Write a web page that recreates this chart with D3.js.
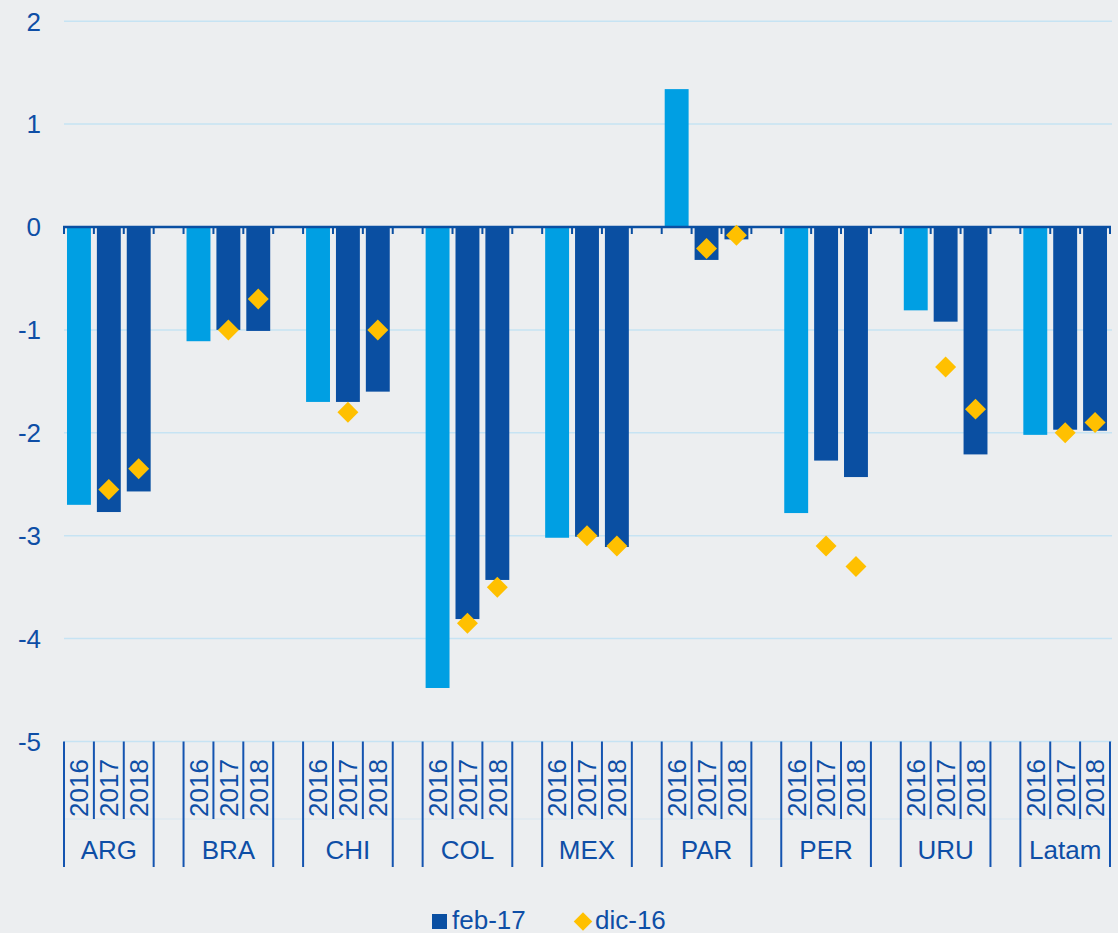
<!DOCTYPE html>
<html>
<head>
<meta charset="utf-8">
<script src="https://cdn.jsdelivr.net/npm/d3@7"></script>
<style>
  body { margin: 0; background: #eceef0; }
  svg { display: block; font-family: "Liberation Sans", Arial, sans-serif; }
</style>
</head>
<body>
<script>
// Data
let countries = ["ARG", "BRA", "CHI", "COL", "MEX", "PAR", "PER", "URU", "Latam"];
let years = ["2016", "2017", "2018"];
// feb-17 forecasts (bars), one row per country: 2016, 2017, 2018
let feb17 = [
  [-2.70, -2.77, -2.57],
  [-1.11, -1.00, -1.01],
  [-1.70, -1.70, -1.60],
  [-4.48, -3.81, -3.43],
  [-3.02, -3.01, -3.11],
  [1.34, -0.32, -0.12],
  [-2.78, -2.27, -2.43],
  [-0.81, -0.92, -2.21],
  [-2.02, -1.97, -1.98]
];
// dic-16 forecasts (diamonds), no value for 2016
let dic16 = [
  [null, -2.55, -2.35],
  [null, -1.00, -0.70],
  [null, -1.80, -1.00],
  [null, -3.85, -3.50],
  [null, -3.00, -3.10],
  [null, -0.21, -0.08],
  [null, -3.10, -3.30],
  [null, -1.36, -1.77],
  [null, -2.00, -1.90]
];
let yTicks = [2, 1, 0, -1, -2, -3, -4, -5];

let width = 1118;
let height = 933;
let textColor = "#0e4ea6";
let darkBlue = "#0a4fa2";
let lightBlue = "#009fe3";
let yellow = "#ffc000";
let gridColor = "#c6e3f3";

// one slot per year, plus an empty slot between countries
let slots = [];
countries.forEach((c, i) => {
  years.forEach((yr, j) => slots.push({key: c + "|" + yr, country: c, year: yr, ci: i, yi: j}));
  if (i < countries.length - 1) slots.push({key: c + "|gap", gap: true});
});

let x = d3.scaleBand()
  .domain(slots.map(s => s.key))
  .range([64, 1110])
  .paddingInner(0.2)
  .paddingOuter(0.1);

let y = d3.scaleLinear()
  .domain([-5, 2])
  .range([741.5, 21.2]);

let x0 = x.range()[0];
let step = x.step();
let boundary = k => x0 + k * step;

let svg = d3.select("body")
  .append("svg")
  .attr("width", width)
  .attr("height", height);

svg.append("rect")
  .attr("width", width)
  .attr("height", height)
  .attr("fill", "#eceef0");

// gridlines
svg.append("g")
  .selectAll("line")
  .data(yTicks.filter(t => t != 0))
  .enter()
  .append("line")
  .attr("x1", 64)
  .attr("x2", 1112)
  .attr("y1", d => y(d))
  .attr("y2", d => y(d))
  .attr("stroke", gridColor)
  .attr("stroke-width", 1.5);

// y labels
svg.append("g")
  .selectAll("text")
  .data(yTicks)
  .enter()
  .append("text")
  .attr("x", 41)
  .attr("y", d => y(d))
  .attr("dy", "0.36em")
  .attr("text-anchor", "end")
  .attr("fill", textColor)
  .style("font-size", "26px")
  .text(d => d);

// bars
let barData = slots.filter(s => !s.gap).map(s => ({...s, value: feb17[s.ci][s.yi]}));
svg.append("g")
  .selectAll("rect")
  .data(barData)
  .enter()
  .append("rect")
  .attr("x", d => x(d.key))
  .attr("width", x.bandwidth())
  .attr("y", d => y(Math.max(0, d.value)))
  .attr("height", d => Math.abs(y(d.value) - y(0)))
  .attr("fill", d => d.yi == 0 ? lightBlue : darkBlue);

// zero axis with ticks at each slot
let axis = svg.append("g");
axis.append("line")
  .attr("x1", 63)
  .attr("x2", 1111)
  .attr("y1", y(0))
  .attr("y2", y(0))
  .attr("stroke", darkBlue)
  .attr("stroke-width", 2.5);
axis.selectAll(".tick")
  .data(d3.range(slots.length + 1))
  .enter()
  .append("line")
  .attr("x1", d => boundary(d))
  .attr("x2", d => boundary(d))
  .attr("y1", y(0))
  .attr("y2", y(0) + 7)
  .attr("stroke", darkBlue)
  .attr("stroke-width", 2);

// diamonds
let dotData = slots.filter(s => !s.gap && dic16[s.ci][s.yi] != null)
  .map(s => ({...s, value: dic16[s.ci][s.yi]}));
svg.append("g")
  .selectAll("path")
  .data(dotData)
  .enter()
  .append("path")
  .attr("d", d3.symbol(d3.symbolSquare, 220))
  .attr("transform", d => `translate(${x(d.key) + x.bandwidth() / 2},${y(d.value)}) rotate(45)`)
  .attr("fill", yellow);

// category axis below the plot
let cat = svg.append("g");
let labelTop = y(-5);
let yearBottom = 819;
let catBottom = 867;

cat.append("line")
  .attr("x1", 64)
  .attr("x2", 1112)
  .attr("y1", yearBottom)
  .attr("y2", yearBottom)
  .attr("stroke", "#d8e6f0")
  .attr("stroke-width", 1);

countries.forEach((c, i) => {
  let first = i * 4;
  for (let k = 0; k <= 3; k++) {
    let outer = (k == 0 || k == 3);
    cat.append("line")
      .attr("x1", boundary(first + k))
      .attr("x2", boundary(first + k))
      .attr("y1", labelTop)
      .attr("y2", outer ? catBottom : yearBottom)
      .attr("stroke", "#1454b0")
      .attr("stroke-width", 2);
  }
  cat.append("text")
    .attr("x", (boundary(first) + boundary(first + 3)) / 2)
    .attr("y", 859)
    .attr("text-anchor", "middle")
    .attr("fill", textColor)
    .style("font-size", "26px")
    .text(c);
});

cat.selectAll(".year")
  .data(barData)
  .enter()
  .append("text")
  .attr("transform", d => `translate(${x(d.key) + x.bandwidth() / 2},817) rotate(-90)`)
  .attr("dy", "0.36em")
  .attr("text-anchor", "start")
  .attr("fill", textColor)
  .style("font-size", "26px")
  .text(d => d.year);

// legend
let legend = svg.append("g");
legend.append("rect")
  .attr("x", 432)
  .attr("y", 914)
  .attr("width", 15)
  .attr("height", 15)
  .attr("fill", darkBlue);
legend.append("text")
  .attr("x", 452)
  .attr("y", 929)
  .attr("fill", textColor)
  .style("font-size", "26px")
  .text("feb-17");
legend.append("path")
  .attr("d", d3.symbol(d3.symbolSquare, 170))
  .attr("transform", "translate(583,921.5) rotate(45)")
  .attr("fill", yellow);
legend.append("text")
  .attr("x", 595)
  .attr("y", 929)
  .attr("fill", textColor)
  .style("font-size", "26px")
  .text("dic-16");
</script>
</body>
</html>
